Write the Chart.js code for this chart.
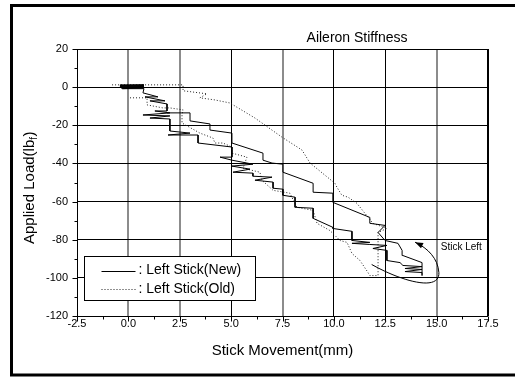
<!DOCTYPE html>
<html>
<head>
<meta charset="utf-8">
<script src="https://cdn.jsdelivr.net/npm/chart.js@4.4.1/dist/chart.umd.min.js"></script>
<style>
  body { margin: 0; background: #fff; overflow: hidden; }
  canvas { display: block; }
</style>
</head>
<body>
<canvas id="grafico" width="515" height="377"></canvas>
<script>
const titulo = 'Aileron Stiffness';
const xTitulo = 'Stick Movement(mm)';
const yTitulo = ['Applied Load(lb', 'f', ')'];
const nomes = ['Left Stick(New)', 'Left Stick(Old)'];
const anotacao = 'Stick Left';

const xTicks = [-2.5, 0, 2.5, 5, 7.5, 10, 12.5, 15, 17.5];
const yTicks = [-120, -100, -80, -60, -40, -20, 0, 20];

// New stick: loading (lower steps) then unloading (upper steps)
const newX = [-0.41, 0.76, -0.41, 0.76, -0.41, 0.76, -0.38, 0.76, -0.36, 0.76, -0.3, 0.76, 0.71, 1.44, 0.81, 1.78, 1.05, 1.88, 1.88, 1.29, 2.02, 0.71, 2.02, 1.05, 2.02,
  2.02, 3.0, 1.93, 3.39, 3.39, 5.04, 5.04, 4.46, 5.04, 6.06, 5.04, 5.92, 5.09, 6.06, 6.06, 6.99, 6.16, 7.04, 7.04, 7.52, 7.52,
  8.11, 8.11, 8.99, 8.99, 9.95, 9.95, 10.88, 10.88, 11.75, 10.88, 11.75, 12.58, 11.9, 12.58, 12.58, 13.22, 13.36, 14.29, 13.46,
  14.29, 13.46, 14.29, 14.29,
  14.29, 13.36, 13.32, 13.12, 12.49, 12.15, 12.49, 11.75, 11.75, 9.95, 9.95, 8.99, 8.99, 7.52, 7.52, 6.99, 6.55, 6.55, 5.04,
  5.04, 3.97, 3.97, 3.0, 3.0, 1.88];
const newY = [1.21, 1.21, 0.8, 0.8, 0.42, 0.42, 0.0, 0.0, -0.37, -0.37, -0.8, -0.8, -3.0, -5.1, -5.1, -7.2, -7.2, -8.8, -12.5, -12.5, -13.5, -14.6, -15.1, -16.2, -16.7,
  -23.0, -24.1, -25.1, -25.1, -29.3, -31.4, -36.7, -36.7, -38.3, -40.4, -41.4, -43.0, -44.6, -45.1, -46.7, -47.2, -48.8, -49.8, -53.0, -53.5, -56.7,
  -57.7, -63.0, -63.5, -68.8, -73.5, -74.1, -75.6, -80.4, -81.4, -81.9, -82.5, -83.0, -84.6, -85.6, -90.9, -92.0, -93.5, -94.1, -95.1,
  -95.6, -96.7, -97.2, -98.8,
  -92.0, -88.3, -85.6, -81.9, -80.4, -76.2, -72.5, -71.4, -68.3, -60.4, -55.6, -55.1, -50.4, -44.6, -40.4, -39.8, -38.3, -34.6, -29.3,
  -24.1, -22.5, -19.3, -17.7, -13.5, -13.5];

// Old stick: lower branch, up at the end, back on the upper branch
const oldX = [0.08, 0.91, 0.91, 1.68, 2.02, 2.66, 2.61, 2.61, 3.48, 4.12, 4.21, 4.6, 5.04, 5.04, 5.77, 5.58, 6.4, 6.5, 7.04, 7.86,
  8.2, 8.99, 9.18, 9.81, 10.3, 10.64, 10.88, 11.27, 11.66, 11.75, 12.15, 12.15, 12.58,
  11.9, 11.12, 10.69, 10.39, 10.15, 10.05, 8.84, 8.45, 7.47, 6.16, 4.94, 4.21, 3.48, 3.82, 2.66, 2.66, -0.89];
const oldY = [-5.6, -5.6, -9.3, -10.9, -10.9, -11.9, -14.6, -18.8, -24.1, -26.7, -29.3, -29.3, -31.4, -34.6, -36.7, -42.5, -44.6, -48.8, -54.1, -55.6,
  -63.0, -64.6, -71.4, -75.2, -80.4, -81.4, -87.2, -90.9, -97.2, -98.8, -98.8, -76.2, -74.1,
  -71.4, -60.9, -57.7, -56.7, -52.5, -50.4, -39.8, -33.0, -26.2, -16.2, -8.3, -6.7, -5.6, -3.5, -1.9, 1.2, 1.2];

// arrow for "Stick Left" (data coords: start, c1, c2, mid, c3, c4, tip)
const setaX = [11.84, 13.22, 15.16, 15.11, 15.06, 14.58, 13.95];
const setaY = [-93.0, -101.4, -107.7, -97.2, -89.8, -84.5, -81.3];

const pontos = (xs, ys) => xs.map((v, i) => ({ x: v, y: ys[i] }));
const fonte = 'Liberation Sans, Arial, sans-serif';

const desenhos = {
  id: 'desenhos',
  afterDraw(chart) {
    const { ctx, chartArea: a, scales: { x, y } } = chart;
    ctx.save();

    // moldura externa
    ctx.strokeStyle = '#000';
    ctx.lineWidth = 3;
    ctx.strokeRect(11.5, 5.5, 520, 369.5);

    // borda do grafico
    ctx.lineWidth = 1;
    ctx.strokeRect(Math.round(a.left) + 0.5, Math.round(a.top) + 0.5, Math.round(a.width) - 1, Math.round(a.height));

    // ticks maiores e menores
    ctx.beginPath();
    const base = Math.round(a.bottom) + 0.5;
    for (let i = 0; i < xTicks.length; i++) {
      const px = Math.round(x.getPixelForValue(xTicks[i])) + 0.5;
      ctx.moveTo(px, base); ctx.lineTo(px, base + 5);
      if (i < xTicks.length - 1) {
        const pm = Math.round(x.getPixelForValue((xTicks[i] + xTicks[i + 1]) / 2)) + 0.5;
        ctx.moveTo(pm, base); ctx.lineTo(pm, base + 3);
      }
    }
    const esq = Math.round(a.left) + 0.5;
    for (let i = 0; i < yTicks.length; i++) {
      const py = Math.round(y.getPixelForValue(yTicks[i])) + 0.5;
      ctx.moveTo(esq, py); ctx.lineTo(esq - 5, py);
      if (i < yTicks.length - 1) {
        const pm = Math.round(y.getPixelForValue((yTicks[i] + yTicks[i + 1]) / 2)) + 0.5;
        ctx.moveTo(esq, pm); ctx.lineTo(esq - 3, pm);
      }
    }
    ctx.stroke();

    // titulo
    ctx.fillStyle = '#000';
    ctx.font = '14px ' + fonte;
    ctx.textAlign = 'center';
    ctx.textBaseline = 'middle';
    ctx.fillText(titulo, a.left + 280, 38);

    // titulo eixo x
    ctx.font = '15px ' + fonte;
    ctx.fillText(xTitulo, (a.left + a.right) / 2, 351);

    // titulo eixo y com subscrito
    ctx.save();
    ctx.translate(30, 188);
    ctx.rotate(-Math.PI / 2);
    ctx.textAlign = 'left';
    ctx.font = '15px ' + fonte;
    const w1 = ctx.measureText(yTitulo[0]).width;
    const w3 = ctx.measureText(yTitulo[2]).width;
    ctx.font = '10px ' + fonte;
    const w2 = ctx.measureText(yTitulo[1]).width;
    let px = -(w1 + w2 + w3) / 2;
    ctx.font = '15px ' + fonte;
    ctx.fillText(yTitulo[0], px, 0);
    ctx.font = '10px ' + fonte;
    ctx.fillText(yTitulo[1], px + w1, 4);
    ctx.font = '15px ' + fonte;
    ctx.fillText(yTitulo[2], px + w1 + w2 + 0.5, 0);
    ctx.restore();

    // legenda
    const lx = Math.round(a.left) + 7.5, ly = Math.round(a.top) + 207.5;
    ctx.fillStyle = '#fff';
    ctx.fillRect(lx, ly, 171, 44);
    ctx.strokeStyle = '#000';
    ctx.lineWidth = 1;
    ctx.strokeRect(lx, ly, 171, 44);
    chart.data.datasets.forEach((ds, i) => {
      const yy = ly + 14 + i * 18.5;
      ctx.strokeStyle = ds.borderColor;
      ctx.setLineDash(ds.borderDash || []);
      ctx.beginPath();
      ctx.moveTo(lx + 17, Math.round(yy) + 0.5);
      ctx.lineTo(lx + 51, Math.round(yy) + 0.5);
      ctx.stroke();
      ctx.setLineDash([]);
      ctx.fillStyle = '#000';
      ctx.font = '14px ' + fonte;
      ctx.textAlign = 'left';
      ctx.fillText(': ' + ds.label, lx + 54, yy);
    });

    // anotacao com seta
    const sx = setaX.map(v => x.getPixelForValue(v));
    const sy = setaY.map(v => y.getPixelForValue(v));
    ctx.strokeStyle = '#000';
    ctx.lineWidth = 1;
    ctx.beginPath();
    ctx.moveTo(sx[0], sy[0]);
    ctx.bezierCurveTo(sx[1], sy[1], sx[2], sy[2], sx[3], sy[3]);
    ctx.bezierCurveTo(sx[4], sy[4], sx[5], sy[5], sx[6], sy[6]);
    ctx.stroke();
    const ang = Math.atan2(sy[6] - sy[5], sx[6] - sx[5]);
    ctx.fillStyle = '#000';
    ctx.beginPath();
    ctx.moveTo(sx[6], sy[6]);
    ctx.lineTo(sx[6] - 8 * Math.cos(ang) + 3 * Math.sin(ang), sy[6] - 8 * Math.sin(ang) - 3 * Math.cos(ang));
    ctx.lineTo(sx[6] - 8 * Math.cos(ang) - 3 * Math.sin(ang), sy[6] - 8 * Math.sin(ang) + 3 * Math.cos(ang));
    ctx.closePath();
    ctx.fill();
    ctx.font = '10px ' + fonte;
    ctx.textAlign = 'left';
    ctx.fillText(anotacao, x.getPixelForValue(15.2), y.getPixelForValue(-84));

    ctx.restore();
  }
};

const corGradeX = c => [5, 10, 12.5, -2.5, 17.5].includes(c.tick.value) ? '#000' : '#8c8c8c';

new Chart(document.getElementById('grafico'), {
  type: 'scatter',
  data: {
    datasets: [
      {
        label: nomes[0],
        data: pontos(newX, newY),
        showLine: true,
        borderColor: '#000',
        borderWidth: 1,
        pointRadius: 0,
        tension: 0
      },
      {
        label: nomes[1],
        data: pontos(oldX, oldY),
        showLine: true,
        borderColor: '#222',
        borderWidth: 1,
        borderDash: [1, 2],
        pointRadius: 0,
        tension: 0
      }
    ]
  },
  options: {
    responsive: false,
    animation: false,
    devicePixelRatio: 1,
    layout: { padding: { left: 0, right: 27, top: 49, bottom: 0 } },
    plugins: {
      legend: { display: false },
      tooltip: { enabled: false }
    },
    scales: {
      x: {
        type: 'linear',
        min: -2.5,
        max: 17.5,
        afterBuildTicks: s => { s.ticks = xTicks.map(v => ({ value: v })); },
        afterFit: s => { s.height = 61; },
        grid: {
          color: corGradeX,
          lineWidth: c => corGradeX(c) === '#000' ? 1 : 2,
          drawTicks: false
        },
        border: { display: false },
        ticks: {
          padding: 1,
          color: '#000',
          font: { family: fonte, size: 11 },
          callback: v => v.toFixed(1)
        }
      },
      y: {
        type: 'linear',
        min: -120,
        max: 20,
        afterBuildTicks: s => { s.ticks = yTicks.map(v => ({ value: v })); },
        afterFit: s => { s.width = 77; },
        grid: { color: '#000', lineWidth: 1, drawTicks: false },
        border: { display: false },
        ticks: {
          padding: 9,
          color: '#000',
          font: { family: fonte, size: 11 },
          callback: v => String(v)
        }
      }
    }
  },
  plugins: [desenhos]
});
</script>
</body>
</html>
